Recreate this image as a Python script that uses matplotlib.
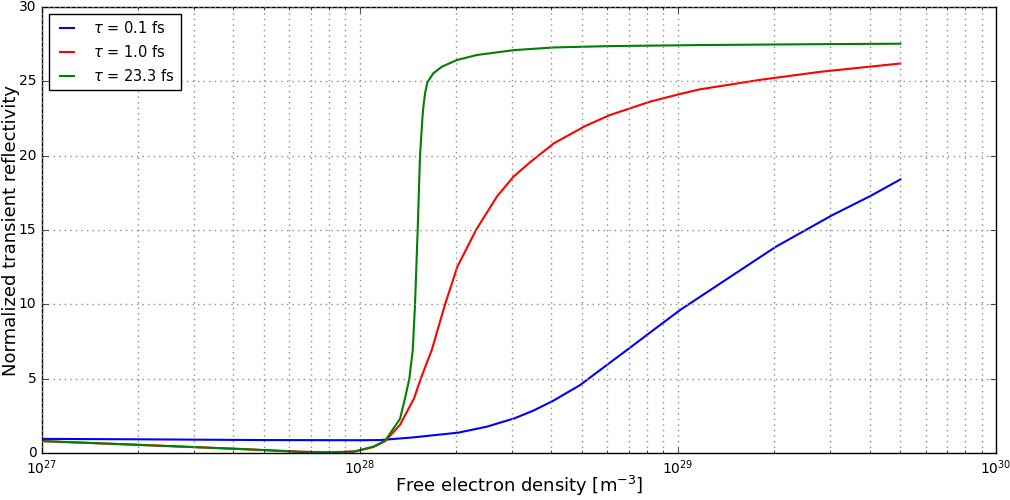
import matplotlib
matplotlib.use('Agg')
import matplotlib.pyplot as plt
import numpy as np

# free electron density [m^-3] and normalized reflectivity
n_01 = [1e27, 2e27, 5e27, 1e28, 1.156e28, 1.471e28, 2.038e28, 2.503e28, 3.057e28, 3.507e28,
        4.055e28, 4.92e28, 6.067e28, 7.08e28, 8.105e28, 1.015e29, 1.436e29, 2.029e29,
        3.043e29, 4.036e29, 5e29]
r_01 = [0.95, 0.92, 0.87, 0.86, 0.87, 1.05, 1.37, 1.77, 2.33, 2.85,
        3.52, 4.57, 6.03, 7.1, 8.05, 9.62, 11.75, 13.87,
        15.98, 17.3, 18.4]

n_10 = [1e27, 2e27, 4.2e27, 6.5e27, 8.05e27, 9.6e27, 1.1e28, 1.2e28, 1.336e28, 1.479e28,
        1.552e28, 1.681e28, 1.851e28, 2.023e28, 2.316e28, 2.692e28, 3.035e28, 3.408e28,
        4.07e28, 5.1e28, 6.1e28, 8.16e28, 1.01e29, 1.17e29, 1.81e29, 2.8e29, 5e29]
r_10 = [0.8, 0.55, 0.27, 0.09, 0.05, 0.1, 0.4, 0.8, 1.9, 3.68,
        5.0, 6.93, 10.0, 12.53, 15.0, 17.24, 18.58, 19.52,
        20.83, 21.99, 22.73, 23.63, 24.14, 24.46, 25.1, 25.64, 26.2]

n_233 = [1e27, 2e27, 4.2e27, 6.5e27, 8.05e27, 9.6e27, 1.1e28, 1.2e28, 1.336e28, 1.385e28,
         1.429e28, 1.465e28, 1.489e28, 1.518e28, 1.544e28, 1.570e28, 1.582e28, 1.601e28,
         1.628e28, 1.700e28, 1.807e28, 2.014e28, 2.328e28, 3.05e28, 4.07e28, 6.1e28,
         1.17e29, 2.8e29, 5e29]
r_233 = [0.8, 0.55, 0.27, 0.07, 0.02, 0.1, 0.42, 0.83, 2.3, 3.68,
         5.0, 6.93, 10.0, 15.0, 20.0, 22.46, 23.29, 24.19,
         24.93, 25.54, 25.98, 26.43, 26.77, 27.1, 27.28, 27.37,
         27.44, 27.5, 27.53]

labels = [r'$\tau$ = 0.1 fs', r'$\tau$ = 1.0 fs', r'$\tau$ = 23.3 fs']

plt.style.use('classic')
plt.rcParams['mathtext.fontset'] = 'dejavusans'

fig = plt.figure(figsize=(10.1, 5), dpi=100)
fig.patch.set_facecolor('white')
ax = fig.add_axes([0.0416, 0.094, 0.9446, 0.892])

ax.semilogx(n_01, r_01, 'b-', lw=1.5, label=labels[0])
ax.semilogx(n_10, r_10, 'r-', lw=1.5, label=labels[1])
ax.semilogx(n_233, r_233, 'g-', lw=1.5, label=labels[2])

ax.set_xlim(1e27, 1e30)
ax.set_ylim(0, 30)
ax.set_yticks(np.arange(0, 31, 5))
ax.grid(True, which='both', color='0.55', linestyle=':', linewidth=1)
ax.tick_params(labelsize=10)

ax.set_xlabel(r'Free electron density [m$^{-3}$]', fontsize=13, labelpad=-2)
ax.set_ylabel('Normalized transient reflectivity', fontsize=13, labelpad=-1)
ax.legend(loc='upper left', fontsize=10.5, fancybox=False, handlelength=1.6,
          handletextpad=1.0, labelspacing=0.55)

fig.savefig('out.png', dpi=100, facecolor='white')
